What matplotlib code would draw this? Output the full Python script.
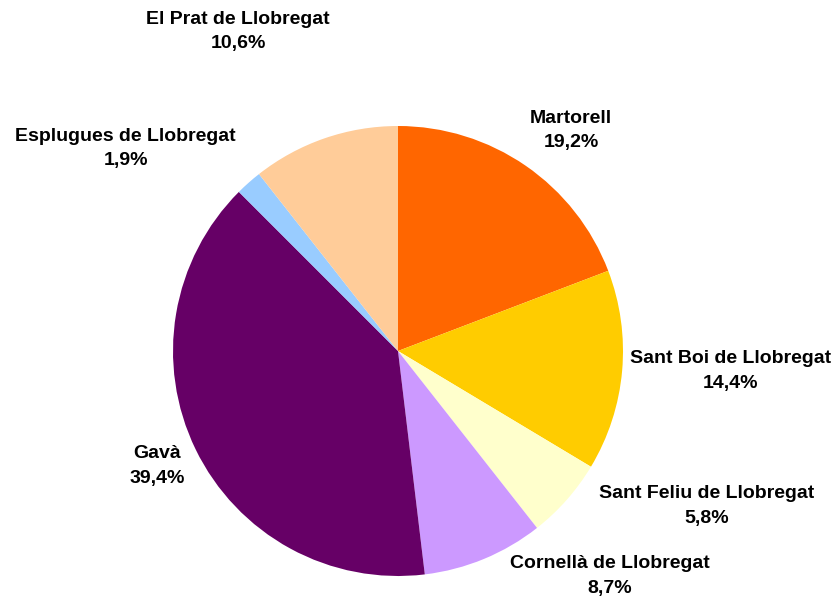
import matplotlib.pyplot as plt
from matplotlib import font_manager

# Data
names = ['Martorell', 'Sant Boi de Llobregat', 'Sant Feliu de Llobregat',
         'Cornellà de Llobregat', 'Gavà', 'Esplugues de Llobregat',
         'El Prat de Llobregat']
shares = [19.2, 14.4, 5.8, 8.7, 39.4, 1.9, 10.6]
colors = ['#FF6600', '#FFCC00', '#FFFFCC', '#CC99FF', '#660066', '#99CCFF', '#FFCC99']

# Label anchor points (in units of pie radius), set by hand like the original
label_pos = [(0.77, 0.98), (1.48, -0.09), (1.37, -0.69), (0.94, -1.00),
             (-1.07, -0.51), (-1.21, 0.90), (-0.71, 1.42)]

installed = {f.name for f in font_manager.fontManager.ttflist}
family = 'Liberation Sans Narrow' if 'Liberation Sans Narrow' in installed else 'Liberation Sans'

fig = plt.figure(figsize=(8.36, 6.02), dpi=100)
# pie centre at (398, 353) px, radius ~225 px
ax = fig.add_axes([173 / 836, 26 / 602, 450 / 836, 450 / 602])
ax.pie(shares, colors=colors, startangle=90, counterclock=False,
       radius=1, wedgeprops=dict(linewidth=0))
ax.set_xlim(-1, 1)
ax.set_ylim(-1, 1)
ax.set_aspect('equal')
ax.axis('off')

for name, val, (x, y) in zip(names, shares, label_pos):
    txt = '%s\n%s%%' % (name, ('%.1f' % val).replace('.', ','))
    ax.text(x, y, txt, ha='center', va='center', family=family,
            fontweight='bold', fontsize=14, linespacing=1.6, clip_on=False)

fig.savefig('out.png', dpi=100)
